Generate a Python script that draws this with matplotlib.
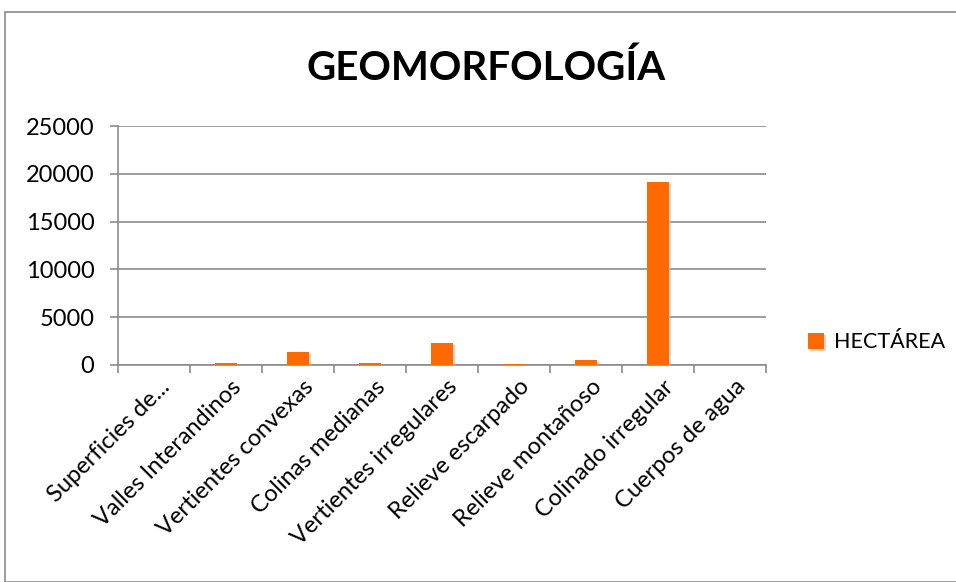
import numpy as np
import matplotlib.pyplot as plt
import matplotlib.patheffects as pe
import matplotlib.transforms as mtransforms
from matplotlib.patches import Rectangle

categories = ['Superficies de...', 'Valles Interandinos', 'Vertientes convexas',
              'Colinas medianas', 'Vertientes irregulares', 'Relieve escarpado',
              'Relieve montañoso', 'Colinado irregular', 'Cuerpos de agua']
hectarea = [20, 170, 1400, 240, 2300, 150, 500, 19100, 10]
yticks = [0, 5000, 10000, 15000, 20000, 25000]

plt.rcParams['font.family'] = ['Lato', 'DejaVu Sans']

fig = plt.figure(figsize=(9.56, 5.82), dpi=100)
# outer chart border
fig.patches.append(Rectangle((5 / 956, 0.0), 1.0, 1 - 12 / 582, transform=fig.transFigure,
                             fill=False, edgecolor='#8c8c8c', linewidth=1.2))

ax = fig.add_axes([0.1234, 0.3729, 0.6776, 0.4106])
x = np.arange(len(categories))
bars = ax.bar(x, hectarea, width=0.3, color='#FF6A00', label='HECTÁREA', zorder=3)
for b in bars:
    b.set_path_effects([pe.SimplePatchShadow(offset=(1.5, -1.5), shadow_rgbFace='#bbbbbb', alpha=0.6),
                        pe.Normal()])

ax.set_xlim(-0.5, len(categories) - 0.5)
ax.set_ylim(0, 25000)
ax.set_yticks(yticks)
ax.tick_params(axis='y', labelsize=17, length=6, color='#8c8c8c', width=1.2, pad=11)
ax.grid(axis='y', color='#8c8c8c', linewidth=1.2, zorder=0)

ax.set_xticks(x)
ax.set_xticklabels(categories, rotation=45, ha='right', rotation_mode='anchor', fontsize=17)
ax.tick_params(axis='x', length=0, pad=8)
shift = mtransforms.ScaledTranslation(5 / 100, 0, fig.dpi_scale_trans)
for lbl in ax.get_xticklabels():
    lbl.set_transform(lbl.get_transform() + shift)
ax.set_xticks(np.arange(-0.5, len(categories), 1), minor=True)
ax.tick_params(axis='x', which='minor', length=6, color='#8c8c8c', width=1.2)

for s in ['top', 'right']:
    ax.spines[s].set_visible(False)
for s in ['left', 'bottom']:
    ax.spines[s].set_color('#8c8c8c')
    ax.spines[s].set_linewidth(1.2)

fig.text(0.508, 0.882, 'GEOMORFOLOGÍA', ha='center', va='center', fontsize=29, fontweight='bold')

fig.legend(handles=[bars], labels=['HECTÁREA'], loc='center left', bbox_to_anchor=(0.845, 0.412),
           frameon=False, fontsize=15.5, handlelength=0.75, handleheight=0.75, handletextpad=0.45,
           borderaxespad=0, borderpad=0)

fig.savefig('out.png', dpi=100)
